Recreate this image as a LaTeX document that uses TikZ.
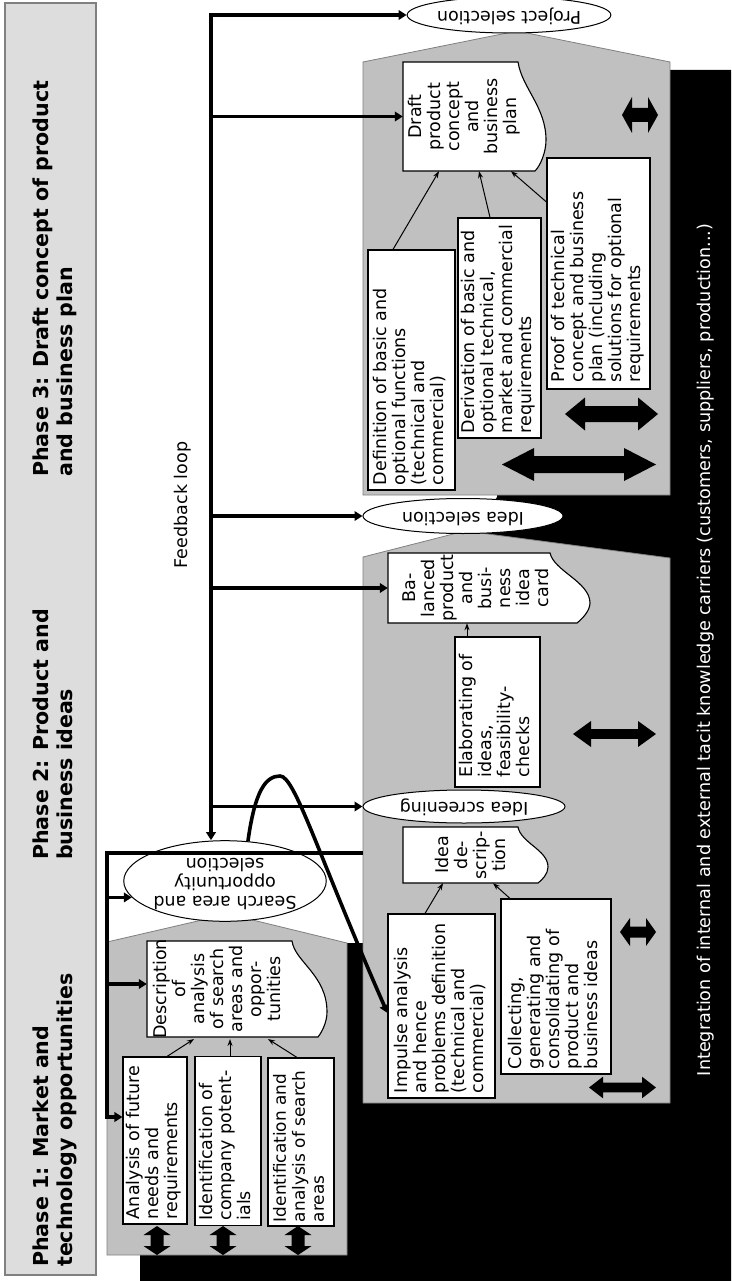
\documentclass[tikz,border=0pt]{standalone}
\usepackage{fontspec}
\setmainfont{DejaVu Sans}
\usepackage{graphicx}
\usetikzlibrary{arrows.meta,shapes.geometric,calc}

\definecolor{headgray}{HTML}{DDDDDD}
\definecolor{phasegray}{HTML}{C0C0C0}
\definecolor{edgegray}{HTML}{808080}

% text set upright in the page frame
\newcommand{\boxtext}[2]{\rotatebox{90}{\makebox[#1][l]{\begin{tabular}{@{}l@{}}#2\end{tabular}}}}
\newcommand{\vlinesc}[1]{\rotatebox{90}{\begin{tabular}{@{}c@{}}#1\end{tabular}}}
\newcommand{\flines}[1]{\rotatebox{180}{\begin{tabular}{@{}c@{}}#1\end{tabular}}}

% block double arrows: centre x, centre y, half length, shaft half width, head half width, head length
\newcommand{\hdarrow}[6]{\fill ({#1-#3},{#2}) -- ({#1-#3+#6},{#2-#5}) -- ({#1-#3+#6},{#2-#4}) -- ({#1+#3-#6},{#2-#4}) -- ({#1+#3-#6},{#2-#5}) -- ({#1+#3},{#2}) -- ({#1+#3-#6},{#2+#5}) -- ({#1+#3-#6},{#2+#4}) -- ({#1-#3+#6},{#2+#4}) -- ({#1-#3+#6},{#2+#5}) -- cycle;}
\newcommand{\vdarrow}[6]{\fill ({#1},{#2-#3}) -- ({#1-#5},{#2-#3+#6}) -- ({#1-#4},{#2-#3+#6}) -- ({#1-#4},{#2+#3-#6}) -- ({#1-#5},{#2+#3-#6}) -- ({#1},{#2+#3}) -- ({#1+#5},{#2+#3-#6}) -- ({#1+#4},{#2+#3-#6}) -- ({#1+#4},{#2-#3+#6}) -- ({#1+#5},{#2-#3+#6}) -- cycle;}

\begin{document}
\begin{tikzpicture}[x=1pt,y=-1pt,
  font=\fontsize{17.5}{19}\selectfont,
  box/.style={draw, line width=1.1pt, fill=white, inner sep=0pt},
  doc/.style={inner sep=0pt},
  docline/.style={draw, line width=1.1pt, fill=white},
  oval/.style={ellipse, draw, line width=1pt, fill=white, inner sep=0pt},
  phase/.style={draw=edgegray, fill=phasegray, line width=0.8pt},
  fbline/.style={line width=3.6pt},
  fbarrow/.style={fbline, -{Triangle[length=8pt,width=9.5pt]}},
  thinarrow/.style={line width=1pt, -{Stealth[length=7pt,width=5pt]}},
  heading/.style={anchor=south, inner sep=0pt, font=\bfseries\fontsize{20.6}{24}\selectfont}
]
\useasboundingbox (0,0) rectangle (731,1281);

% phase headings column
\draw[draw=edgegray, fill=headgray, line width=1.2pt] (5,3) rectangle (96,1275);
\node[heading] (h1) at (56,1267) {\rotatebox{90}{\begin{tabular}{@{}l@{}}Phase 1: Market and\\technology opportunities\end{tabular}}};
\node[heading] (h2) at (56,860) {\rotatebox{90}{\begin{tabular}{@{}l@{}}Phase 2: Product and\\business ideas\end{tabular}}};
\node[heading] (h3) at (56,477) {\rotatebox{90}{\begin{tabular}{@{}l@{}}Phase 3: Draft concept of product\\and business plan\end{tabular}}};

% knowledge carriers band behind the phases
\fill[black] (140,1281) -- (140,1250) -- (345,943) -- (370,943) -- (370,600) -- (470,545) -- (497,497) -- (497,490) -- (660,490) -- (660,70) -- (731,70) -- (731,1281) -- cycle;
\node[text=white, inner sep=0pt, font=\fontsize{17.6}{19}\selectfont] (integ) at (706,650) {\rotatebox{90}{Integration of internal and external tacit knowledge carriers (customers, suppliers, production...)}};

% phase areas
\draw[phase] (107,1255) -- (107,942) -- (228,914) -- (347,943) -- (347,1255) -- cycle;
\draw[phase] (363,1103) -- (363,557) -- (465,531) -- (670,558) -- (670,1103) -- cycle;
\draw[phase] (363,495) -- (363,62) -- (517,31) -- (670,62) -- (670,495) -- cycle;

\node[inner sep=0pt] (fbl) at (183,505) {\rotatebox{90}{Feedback loop}};

% decision gates
\node[oval, minimum width=202pt, minimum height=36pt] (psel) at (509,15) {\flines{Project selection}};
\node[oval, minimum width=200pt, minimum height=35pt] (isel) at (463,516) {\flines{Idea selection}};
\node[oval, minimum width=202pt, minimum height=33pt] (isc) at (464,806.5) {\flines{Idea screening}};
\node[oval, minimum width=188pt, minimum height=72pt] (search) at (225,881) {\flines{Search area and\\opportunity\\selection}};

% phase 1 activities
\node[box, minimum width=64pt, minimum height=167pt] (b11) at (155,1140.5) {\boxtext{157pt}{Analysis of future\\needs and\\requirements}};
\node[box, minimum width=66pt, minimum height=169pt] (b12) at (228,1141) {\boxtext{159pt}{Identification of\\company potent-\\ials}};
\node[box, minimum width=66pt, minimum height=168pt, font=\fontsize{16.9}{19}\selectfont] (b13) at (301,1142) {\boxtext{160pt}{Identification and\\analysis of search\\areas}};
\draw[docline] (147,941) -- (292,941) .. controls (295,962) and (327,975) .. (327,1012) .. controls (327,1022) and (322,1032) .. (318,1037) -- (147,1037) -- cycle;
\node[doc, minimum width=146pt, minimum height=96pt] (desc) at (220,989) {\vlinesc{Description\\of\\analysis\\of search\\areas and\\oppor-\\tunities}};

% phase 2 activities
\node[box, minimum width=107pt, minimum height=184pt] (b21) at (441.5,1006) {\boxtext{174pt}{Impulse analysis\\and hence\\problems definition\\(technical and\\commercial)}};
\node[box, minimum width=110pt, minimum height=175pt] (b22) at (556,986.5) {\boxtext{165pt}{Collecting,\\generating and\\consolidating of\\product and\\business ideas}};
\draw[docline] (403,827) -- (518,827) .. controls (521,843) and (548,850) .. (548,867) .. controls (548,874) and (542,880) .. (538,883) -- (403,883) -- cycle;
\node[doc, minimum width=140pt, minimum height=56pt] (idesc) at (473,855) {\vlinesc{Idea\\de-\\scrip-\\tion}};
\node[box, minimum width=85pt, minimum height=150pt] (b23) at (497.5,712) {\boxtext{130pt}{Elaborating of\\ideas,\\feasibility-\\checks}};
\draw[docline] (388,553) -- (550,553) .. controls (554,571) and (590,582) .. (590,603) .. controls (590,611) and (582,619) .. (577,623) -- (388,623) -- cycle;
\node[doc, minimum width=180pt, minimum height=70pt] (bal) at (478,588) {\vlinesc{Ba-\\lanced\\product\\and\\busi-\\ness\\idea\\card}};

% phase 3 activities
\node[box, minimum width=87pt, minimum height=240pt] (b31) at (411.5,370) {\boxtext{230pt}{Definition of basic and\\optional functions\\(technical and\\commercial)}};
\node[box, minimum width=83pt, minimum height=220pt] (b32) at (499.5,328) {\boxtext{210pt}{Derivation of basic and\\optional technical,\\market and commercial\\requirements}};
\node[box, minimum width=103pt, minimum height=231pt] (b33) at (598.5,273.5) {\boxtext{217pt}{Proof of technical\\concept and business\\plan (including\\solutions for optional\\requirements}};
\draw[docline] (403,62) -- (518,62) .. controls (522,88) and (546,107) .. (546,140) .. controls (546,153) and (540,166) .. (535,171) -- (403,171) -- cycle;
\node[doc, minimum width=124pt, minimum height=109pt] (draft) at (465,116.5) {\vlinesc{Draft\\product\\concept\\and\\business\\plan}};

% flows inside the phases
\draw[thinarrow] ([xshift=12pt]b11.north) -- ([xshift=-26pt]desc.south);
\draw[thinarrow] ([xshift=2pt]b12.north) -- ([xshift=10pt]desc.south);
\draw[thinarrow] ([xshift=-4pt]b13.north) -- ([xshift=48pt]desc.south);
\draw[thinarrow] ([xshift=-16.5pt]b21.north) -- ([xshift=-30pt]idesc.south);
\draw[thinarrow] ([xshift=-46pt]b22.north) -- ([xshift=20pt]idesc.south);
\draw[thinarrow] ([xshift=-30.5pt]b23.north) -- ([xshift=-11pt]bal.south);
\draw[thinarrow] ([xshift=-18.5pt]b31.north) -- ([xshift=-26pt]draft.south);
\draw[thinarrow] ([xshift=-9.5pt]b32.north) -- ([xshift=14pt]draft.south);
\draw[thinarrow] ([yshift=71.5pt]b33.west) -- ([xshift=46pt]draft.south);

% feedback loop
\coordinate (fbtop) at (211,15);
\draw[fbline, {Triangle[length=8pt,width=9.5pt]}-{Triangle[length=8pt,width=9.5pt]}] (fbtop |- search.north) -- (fbtop) -- (psel.west);
\draw[fbarrow] (fbtop |- draft.west) -- (draft.west);
\draw[fbarrow] (fbtop |- isel.west) -- (isel.west);
\draw[fbarrow] (fbtop |- bal.west) -- (bal.west);
\draw[fbarrow] (fbtop |- isc.west) -- (isc.west);

% return path into phase 1
\coordinate (p2w) at (363,853);
\coordinate (p1w) at (107,853);
\coordinate (b11in) at ([yshift=23.5pt]b11.west);
\coordinate (descin) at ([yshift=5pt]desc.west);
\draw[fbarrow] (p2w) -- (p1w) -- (p1w |- b11in) -- (b11in);
\draw[fbarrow] (p1w |- search.190) -- (search.190);
\draw[fbarrow] (p1w |- descin) -- (descin);

% jump from the search area selection to the impulse analysis
\coordinate (b21in) at ([yshift=-7pt]b21.west);
\draw[fbarrow] (search.60) .. controls (255,790) and (266,776) .. (280,776) .. controls (295,776) and (318,855) .. (b21in);

% exchange with the knowledge carriers
\vdarrow{157}{1240.5}{14.5}{6.5}{13.5}{9}
\vdarrow{223}{1240.5}{14.5}{6.5}{13.5}{9}
\vdarrow{298}{1240.5}{14.5}{6.5}{13.5}{9}
\hdarrow{614.5}{734}{41.5}{4.8}{13}{18}
\hdarrow{638}{932}{18}{5.5}{14}{10}
\hdarrow{622.5}{1087.5}{33.5}{4.8}{10.8}{14}
\hdarrow{579}{464.5}{77}{8.5}{16.5}{32}
\hdarrow{611.5}{414}{46.5}{8}{16.5}{20}
\hdarrow{640}{115}{18}{7}{18}{10}
\end{tikzpicture}
\end{document}
